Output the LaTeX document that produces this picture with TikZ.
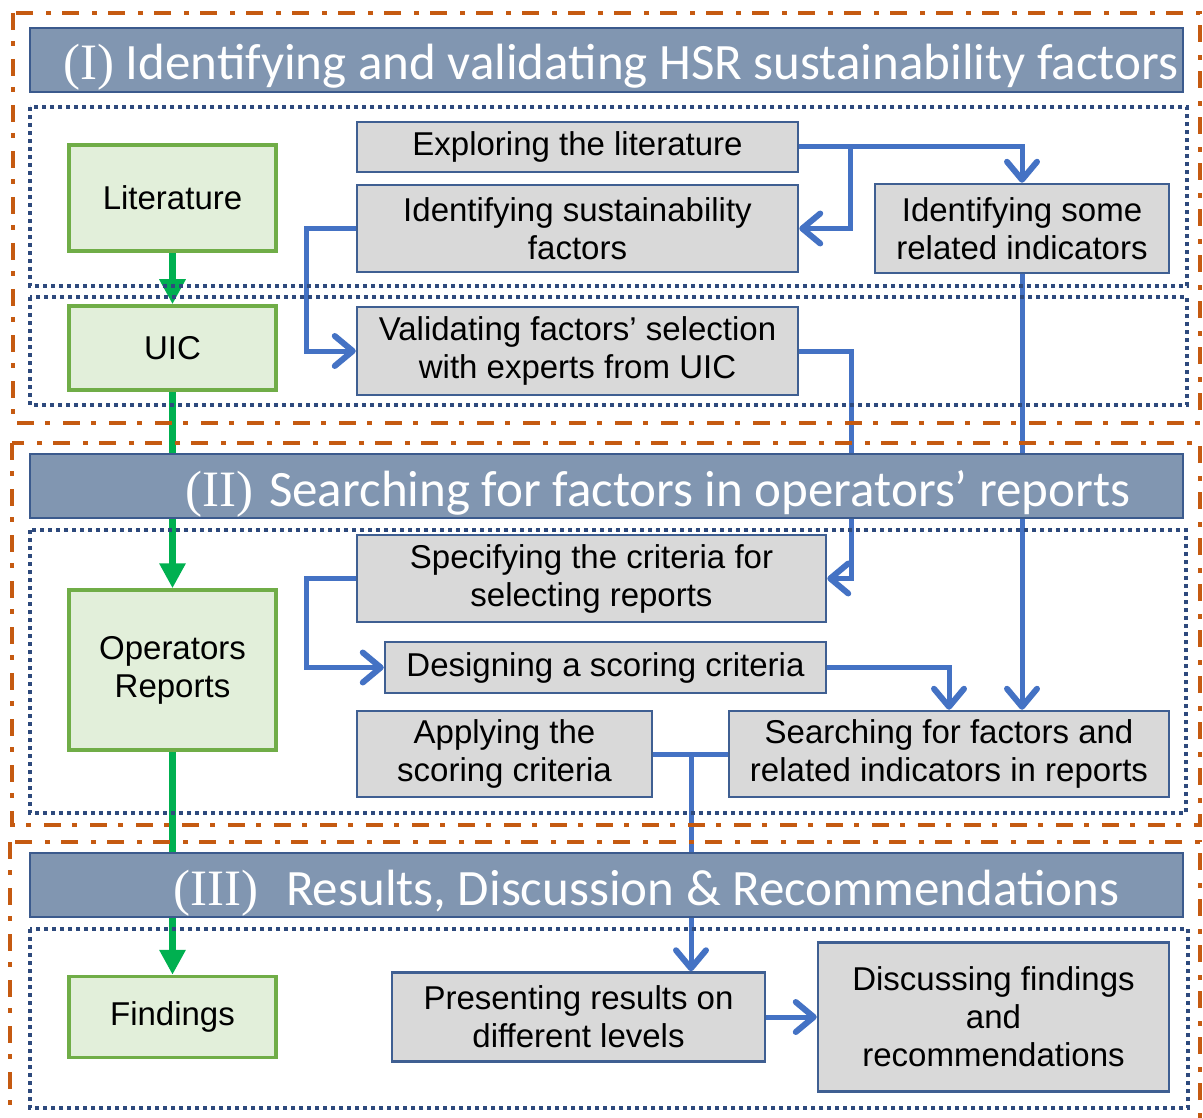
\documentclass[tikz,border=0pt]{standalone}
\usepackage{fontspec}
\setmainfont{Liberation Sans}
\newfontfamily\headfont{Carlito}
\newfontfamily\numfont{Liberation Serif}
\usetikzlibrary{arrows.meta,positioning}
\definecolor{barfill}{HTML}{8196B1}
\definecolor{barline}{HTML}{3B5A8D}
\definecolor{stepfill}{HTML}{D9D9D9}
\definecolor{stepline}{HTML}{3F5F92}
\definecolor{srcfill}{HTML}{E2EFDA}
\definecolor{srcline}{HTML}{70AD47}
\definecolor{srcarrow}{HTML}{00B050}
\definecolor{flowblue}{HTML}{4472C4}
\definecolor{phaseline}{HTML}{C55A11}
\definecolor{groupline}{HTML}{2E4A7D}
\pgfdeclarelayer{back}
\pgfsetlayers{back,main}
\tikzset{
  stepbox/.style={draw=stepline, fill=stepfill, line width=2.5pt, align=center, inner sep=2pt, font=\fontsize{33}{38}\selectfont},
  srcbox/.style={draw=srcline, fill=srcfill, line width=3.5pt, align=center, inner sep=2pt, minimum width=207pt, font=\fontsize{33}{38}\selectfont},
  headbar/.style={draw=barline, fill=barfill, line width=2.5pt, minimum width=1153pt, minimum height=64pt, inner sep=0pt},
  headtext/.style={text=white, anchor=base west, inner sep=0pt, font=\headfont\fontsize{51}{56}\selectfont},
  phase/.style={draw=phaseline, line width=4pt, dash pattern=on 17pt off 11pt on 5pt off 13pt},
  group/.style={draw=groupline, line width=3.5pt, dash pattern=on 4pt off 4pt},
  flowline/.style={draw=flowblue, line width=5pt},
  flow/.style={flowline, -{Straight Barb[length=18pt,width=30pt,line width=6pt,round]}},
  srcflow/.style={draw=srcarrow, line width=7pt, -{Triangle[length=25pt,width=25pt]}}
}

\begin{document}
\begin{tikzpicture}[x=1pt,y=-1pt]
  \useasboundingbox (0,0) rectangle (1203,1118);

  % phase frames
  \draw[phase] (13,13) rectangle (1200,423);
  \draw[phase] (12,443) rectangle (1200,825);
  \draw[phase] (10,842) rectangle (1200,1135);

  % dotted groups
  \draw[group] (30,107) rectangle (1187,286);
  \draw[group] (30,297) rectangle (1187,405);
  \draw[group] (30,530) rectangle (1186,813);
  \draw[group] (30,929) rectangle (1188,1108);

  % phase headers
  \node[headbar] (hdrI) at (606.5,60) {};
  \node[headtext] (hdrItxt) at (63,80) {{\numfont (I)} Identifying and validating HSR sustainability factors};
  \node[headbar] (hdrII) at (606.5,486) {};
  \node[headtext] (hdrIItxt) at (185,506) {{\numfont (II)}\hspace{16pt}Searching for factors in operators’ reports};
  \node[headbar] (hdrIII) at (606.5,885) {};
  \node[headtext] (hdrIIItxt) at (173,905) {{\numfont (III)}\hspace{28pt}Results, Discussion \& Recommendations};

  % sources
  \node[srcbox, minimum height=106pt] (lit)   at (172.5,198)  {Literature};
  \node[srcbox, minimum height=84pt]  (uic)   at (172.5,348)  {UIC};
  \node[srcbox, minimum height=160pt] (oprep) at (172.5,670)  {Operators\\Reports};
  \node[srcbox, minimum height=81pt]  (find)  at (172.5,1017) {Findings};

  % steps
  \node[stepbox, minimum width=441pt, minimum height=50pt] (explore) at (577.5,147)  {Exploring the literature};
  \node[stepbox, minimum width=441pt, minimum height=87pt] (idfact)  at (577.5,228.5) {Identifying sustainability\\factors};
  \node[stepbox, minimum width=294pt, minimum height=89pt] (idind)   at (1022,228.5)  {Identifying some\\related indicators};
  \node[stepbox, minimum width=441pt, minimum height=88pt] (valid)   at (577.5,351)  {Validating factors’ selection\\with experts from UIC};
  \node[stepbox, minimum width=469pt, minimum height=87pt] (spec)    at (591.5,578.5) {Specifying the criteria for\\selecting reports};
  \node[stepbox, minimum width=441pt, minimum height=51pt] (design)  at (605.5,667.5) {Designing a scoring criteria};
  \node[stepbox, minimum width=295pt, minimum height=86pt] (apply)   at (504.5,754)  {Applying the\\scoring criteria};
  \node[stepbox, minimum width=440pt, minimum height=86pt] (search)  at (949,754)    {Searching for factors and\\related indicators in reports};
  \node[stepbox, minimum width=373pt, minimum height=89pt] (present) at (578.5,1017) {Presenting results on\\different levels};
  \node[stepbox, minimum width=351pt, minimum height=149pt] (discuss) at (993.5,1017) {Discussing findings\\and\\recommendations};

  % connectors
  \begin{pgfonlayer}{back}
    \coordinate (splitI) at (850,147);
    \coordinate (splitII) at (691,754);

    \draw[srcflow] (lit) -- (uic);
    \draw[srcflow] (uic) -- (oprep);
    \draw[srcflow] (oprep) -- (find);

    \draw[flow] (explore.east) -| (idind.north);
    \draw[flow] (splitI) |- (idfact.east);
    \draw[flow] (idfact.west) -- ++(-49,0) |- (valid.west);
    \draw[flow] (valid.east) -- ++(52,0) |- (spec.east);
    \draw[flow] (spec.west) -- ++(-49,0) |- (design.west);
    \draw[flow] (design.east) -| (search.north);
    \draw[flow] (idind.south) -- (idind.south |- search.north);
    \draw[flowline] (apply.east) -- (search.west);
    \draw[flow] (splitII) -- (splitII |- present.north);
    \draw[flow] (present.east) -- (discuss.west);
  \end{pgfonlayer}

\end{tikzpicture}
\end{document}
